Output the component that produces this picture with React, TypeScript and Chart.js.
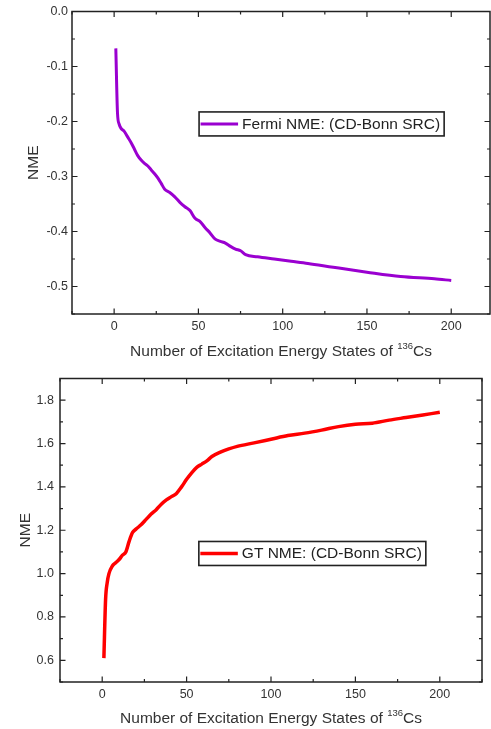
import React, { useEffect, useRef } from 'react';
import { Chart, registerables } from 'chart.js';

Chart.register(...registerables);

// ---------- data ----------
const fermiStates = [1, 2, 3, 4, 6, 8, 10, 12, 14, 16, 18, 20, 22, 24, 26, 28, 30, 33, 36, 39, 42, 45, 48, 51, 54, 57, 60, 63, 66, 69, 72, 75, 78, 85, 95, 105, 115, 130, 150, 170, 190, 200];
const fermiNME = [-0.067, -0.185, -0.205, -0.212, -0.218, -0.228, -0.238, -0.25, -0.262, -0.27, -0.276, -0.281, -0.288, -0.295, -0.303, -0.313, -0.323, -0.329, -0.337, -0.347, -0.355, -0.362, -0.376, -0.382, -0.393, -0.403, -0.414, -0.418, -0.421, -0.427, -0.432, -0.435, -0.442, -0.446, -0.45, -0.454, -0.458, -0.465, -0.474, -0.482, -0.486, -0.489];

const gtStates = [1, 2, 3, 4, 6, 8, 10, 12, 14, 16, 18, 20, 23, 26, 29, 32, 35, 38, 41, 44, 47, 50, 53, 56, 59, 62, 65, 70, 75, 80, 90, 100, 110, 120, 130, 140, 150, 160, 170, 180, 190, 200];
const gtNME = [0.61, 0.88, 0.96, 1.0, 1.035, 1.05, 1.065, 1.085, 1.1, 1.15, 1.19, 1.205, 1.225, 1.25, 1.275, 1.295, 1.32, 1.34, 1.355, 1.37, 1.4, 1.435, 1.465, 1.49, 1.505, 1.52, 1.54, 1.56, 1.575, 1.587, 1.603, 1.62, 1.637, 1.648, 1.662, 1.678, 1.689, 1.694, 1.708, 1.72, 1.732, 1.744];

const fermiLabel = 'Fermi NME: (CD-Bonn SRC)';
const gtLabel = 'GT NME: (CD-Bonn SRC)';
const yTitleText = 'NME';
const xTitleMain = 'Number of Excitation Energy States of ';
const xTitleSup = '136';
const xTitleTail = 'Cs';

const FONT = '"Liberation Sans", Arial, Helvetica, sans-serif';
const TEXT = '#333';
const FRAME = '#222';

const isMultiple = (v: number, step: number) => Math.abs(v / step - Math.round(v / step)) < 1e-6;

// ---------- plugins ----------
const framePlugin = {
  id: 'frameTicks',
  afterDatasetsDraw(chart: any) {
    const { ctx, chartArea: a, scales } = chart;
    ctx.save();
    ctx.strokeStyle = FRAME;
    ctx.lineWidth = 1.5;
    ctx.strokeRect(a.left, a.top, a.right - a.left, a.bottom - a.top);
    ctx.lineWidth = 1.2;
    ctx.beginPath();
    scales.x.ticks.forEach((t: any) => {
      const p = scales.x.getPixelForValue(t.value);
      const len = t.label ? 5.5 : 3;
      ctx.moveTo(p, a.bottom);
      ctx.lineTo(p, a.bottom - len);
      ctx.moveTo(p, a.top);
      ctx.lineTo(p, a.top + len);
    });
    scales.y.ticks.forEach((t: any) => {
      const p = scales.y.getPixelForValue(t.value);
      const len = t.label ? 5.5 : 3;
      ctx.moveTo(a.left, p);
      ctx.lineTo(a.left + len, p);
      ctx.moveTo(a.right, p);
      ctx.lineTo(a.right - len, p);
    });
    ctx.stroke();
    ctx.restore();
  },
};

const boxLegendPlugin = {
  id: 'boxLegend',
  afterDraw(chart: any, _args: any, opts: any) {
    const { ctx, chartArea: a } = chart;
    const ds = chart.data.datasets[0];
    const left = a.left + opts.fx * (a.right - a.left);
    const top = a.top + opts.fy * (a.bottom - a.top);
    ctx.save();
    ctx.font = `15.5px ${FONT}`;
    const tw = ctx.measureText(ds.label).width;
    const w = 43 + tw + 4;
    const h = 24;
    ctx.fillStyle = '#fff';
    ctx.fillRect(left, top, w, h);
    ctx.strokeStyle = FRAME;
    ctx.lineWidth = 1.6;
    ctx.strokeRect(left, top, w, h);
    ctx.strokeStyle = ds.borderColor;
    ctx.lineWidth = ds.borderWidth;
    ctx.beginPath();
    ctx.moveTo(left + 1.5, top + h / 2);
    ctx.lineTo(left + 39, top + h / 2);
    ctx.stroke();
    ctx.fillStyle = '#222';
    ctx.textBaseline = 'middle';
    ctx.textAlign = 'left';
    ctx.fillText(ds.label, left + 43, top + h / 2 + 0.5);
    ctx.restore();
  },
};

const xTitlePlugin = {
  id: 'xTitleSup',
  afterDraw(chart: any, _args: any, opts: any) {
    const { ctx, chartArea: a } = chart;
    ctx.save();
    const big = `15.5px ${FONT}`;
    const small = `9.5px ${FONT}`;
    ctx.font = big;
    const w1 = ctx.measureText(xTitleMain).width;
    const w3 = ctx.measureText(xTitleTail).width;
    ctx.font = small;
    const w2 = ctx.measureText(xTitleSup).width;
    let x = (a.left + a.right) / 2 - (w1 + w2 + w3) / 2;
    const y = a.bottom + opts.offset;
    ctx.fillStyle = TEXT;
    ctx.textBaseline = 'middle';
    ctx.textAlign = 'left';
    ctx.font = big;
    ctx.fillText(xTitleMain, x, y);
    x += w1;
    ctx.font = small;
    ctx.fillText(xTitleSup, x, y - 6);
    x += w2;
    ctx.font = big;
    ctx.fillText(xTitleTail, x, y);
    ctx.restore();
  },
};

// ---------- config ----------
interface Cfg {
  states: number[];
  values: number[];
  label: string;
  color: string;
  lineWidth: number;
  xMax: number;
  yMin: number;
  yMax: number;
  yStep: number;
  yLabelStep: number;
  padding: { top: number; right: number; left: number; bottom: number };
  yAxisWidth: number;
  xAxisHeight: number;
  yTickPad: number;
  yTitlePad: number;
  legendFx: number;
  legendFy: number;
  xTitleOffset: number;
}

function makeConfig(c: Cfg): any {
  return {
    type: 'line',
    data: {
      datasets: [
        {
          label: c.label,
          data: c.states.map((s, i) => ({ x: s, y: c.values[i] })),
          borderColor: c.color,
          backgroundColor: c.color,
          borderWidth: c.lineWidth,
          pointRadius: 0,
          cubicInterpolationMode: 'monotone',
          fill: false,
        },
      ],
    },
    options: {
      animation: false,
      responsive: false,
      devicePixelRatio: 1,
      layout: { padding: c.padding },
      plugins: {
        legend: { display: false },
        tooltip: { enabled: false },
        boxLegend: { fx: c.legendFx, fy: c.legendFy },
        xTitleSup: { offset: c.xTitleOffset },
      },
      scales: {
        x: {
          type: 'linear',
          min: -25,
          max: c.xMax,
          grid: { display: false, drawTicks: false },
          border: { display: false },
          ticks: {
            stepSize: 25,
            includeBounds: false,
            autoSkip: false,
            maxRotation: 0,
            padding: 5,
            color: TEXT,
            font: { family: FONT, size: 12.5 },
            callback: (v: number) => (isMultiple(v, 50) && v >= 0 ? String(Math.round(v)) : ''),
          },
          afterFit: (s: any) => {
            s.height = c.xAxisHeight;
          },
        },
        y: {
          type: 'linear',
          min: c.yMin,
          max: c.yMax,
          grid: { display: false, drawTicks: false },
          border: { display: false },
          title: {
            display: true,
            text: yTitleText,
            color: TEXT,
            font: { family: FONT, size: 15.5 },
            padding: { top: c.yTitlePad, bottom: 0 },
          },
          ticks: {
            stepSize: c.yStep,
            includeBounds: false,
            autoSkip: false,
            padding: c.yTickPad,
            color: TEXT,
            font: { family: FONT, size: 12.5 },
            callback: (v: number) => (isMultiple(v, c.yLabelStep) ? v.toFixed(1) : ''),
          },
          afterFit: (s: any) => {
            s.width = c.yAxisWidth;
          },
        },
      },
    },
    plugins: [framePlugin, boxLegendPlugin, xTitlePlugin],
  };
}

function ChartCanvas({ cfg, width, height, top }: { cfg: Cfg; width: number; height: number; top: number }) {
  const ref = useRef<HTMLCanvasElement | null>(null);
  useEffect(() => {
    if (!ref.current) return;
    const chart = new Chart(ref.current, makeConfig(cfg));
    return () => chart.destroy();
  }, [cfg]);
  return (
    <canvas
      ref={ref}
      width={width}
      height={height}
      style={{ position: 'absolute', left: 0, top, width, height, display: 'block' }}
    />
  );
}

const fermiCfg: Cfg = {
  states: fermiStates,
  values: fermiNME,
  label: fermiLabel,
  color: '#9a00d0',
  lineWidth: 3,
  xMax: 223,
  yMin: -0.55,
  yMax: 0,
  yStep: 0.05,
  yLabelStep: 0.1,
  padding: { top: 10, right: 1, left: 0, bottom: 0 },
  yAxisWidth: 72,
  xAxisHeight: 51,
  yTickPad: 4,
  yTitlePad: 24,
  legendFx: 0.304,
  legendFy: 0.332,
  xTitleOffset: 38,
};

const gtCfg: Cfg = {
  states: gtStates,
  values: gtNME,
  label: gtLabel,
  color: '#ff0000',
  lineWidth: 3.5,
  xMax: 225,
  yMin: 0.5,
  yMax: 1.9,
  yStep: 0.1,
  yLabelStep: 0.2,
  padding: { top: 9, right: 9, left: 0, bottom: 0 },
  yAxisWidth: 60,
  xAxisHeight: 47,
  yTickPad: 6,
  yTitlePad: 16,
  legendFx: 0.329,
  legendFy: 0.537,
  xTitleOffset: 37,
};

export default function App() {
  return (
    <div style={{ position: 'absolute', left: 0, top: 0, width: 491, height: 729, background: '#fff', overflow: 'hidden' }}>
      <ChartCanvas cfg={fermiCfg} width={491} height={365} top={0} />
      <ChartCanvas cfg={gtCfg} width={491} height={364} top={365} />
    </div>
  );
}
